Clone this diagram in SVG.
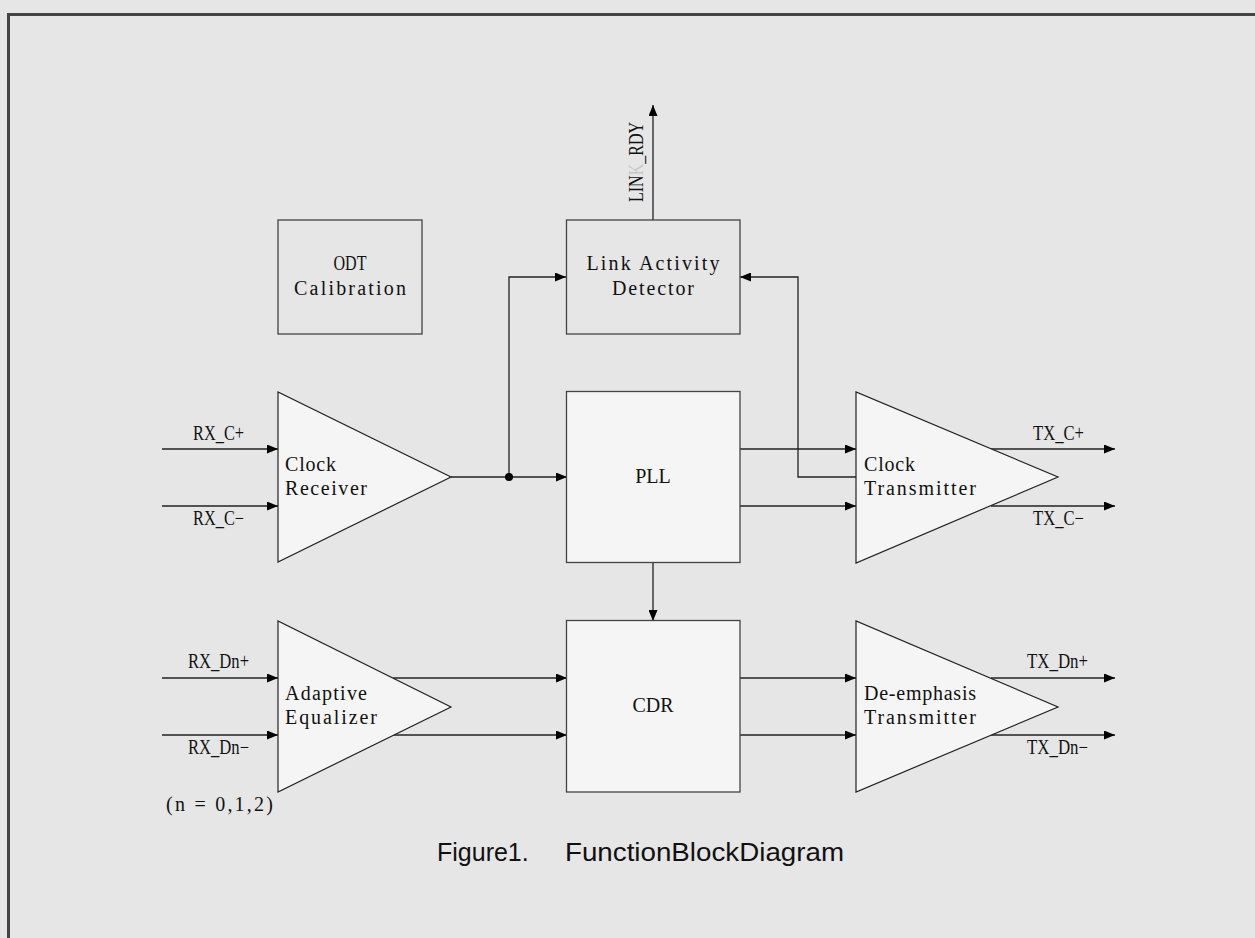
<svg xmlns="http://www.w3.org/2000/svg" width="1255" height="938" viewBox="0 0 1255 938">
<defs>
<marker id="arr" viewBox="0 0 11 9" refX="11" refY="4.5" markerWidth="11" markerHeight="9" markerUnits="userSpaceOnUse" orient="auto">
<path d="M0,0 L11,4.5 L0,9 Z" fill="#000"/>
</marker>
</defs>
<style>
.bg{fill:#e6e6e6}
.frame{fill:none;stroke:#444;stroke-width:3}
.box{fill:#e6e6e6;stroke:#444;stroke-width:1.3}
.blk{fill:#f5f5f5;stroke:#444;stroke-width:1.3}
.tri{fill:#f5f5f5;stroke:#222;stroke-width:1.2}
.a{fill:none;stroke:#222;stroke-width:1.3;marker-end:url(#arr)}
.m{font-family:"Liberation Serif",serif;font-size:20px;fill:#111}
.s{font-family:"Liberation Serif",serif;font-size:20px;fill:#111}
.cap{font-family:"Liberation Sans",Arial,sans-serif;font-size:25px;fill:#111}
.c{text-anchor:middle}
</style>
<rect class="bg" x="0" y="0" width="1255" height="938"/>
<rect class="frame" x="8.5" y="14.5" width="1255" height="940"/>

<g id="connectors">
<line class="a" x1="162" y1="449" x2="278" y2="449"/>
<line class="a" x1="162" y1="506" x2="278" y2="506"/>
<line class="a" x1="451" y1="477" x2="567" y2="477"/>
<polyline class="a" points="509,477 509,277 566,277"/>
<circle cx="509" cy="477" r="4" fill="#000"/>
<line class="a" x1="653" y1="220" x2="653" y2="105"/>
<line class="a" x1="740" y1="449" x2="856" y2="449"/>
<line class="a" x1="740" y1="506" x2="856" y2="506"/>
<polyline class="a" points="856,477 798,477 798,277 740,277"/>
<line class="a" x1="991" y1="449" x2="1115" y2="449"/>
<line class="a" x1="991" y1="506" x2="1115" y2="506"/>
<line class="a" x1="653" y1="563" x2="653" y2="621"/>
<line class="a" x1="162" y1="678" x2="278" y2="678"/>
<line class="a" x1="162" y1="735" x2="278" y2="735"/>
<line class="a" x1="393" y1="678" x2="567" y2="678"/>
<line class="a" x1="393" y1="735" x2="567" y2="735"/>
<line class="a" x1="740" y1="678" x2="856" y2="678"/>
<line class="a" x1="740" y1="735" x2="856" y2="735"/>
<line class="a" x1="991" y1="678" x2="1115" y2="678"/>
<line class="a" x1="991" y1="735" x2="1115" y2="735"/>
</g>

<g id="labels">
<text class="m" x="193" y="440" textLength="51" lengthAdjust="spacingAndGlyphs">RX_C+</text>
<text class="m" x="193" y="525" textLength="51" lengthAdjust="spacingAndGlyphs">RX_C−</text>
<text class="m" x="1033" y="440" textLength="51" lengthAdjust="spacingAndGlyphs">TX_C+</text>
<text class="m" x="1033" y="525" textLength="51" lengthAdjust="spacingAndGlyphs">TX_C−</text>
<text class="m" x="188" y="668" textLength="61" lengthAdjust="spacingAndGlyphs">RX_Dn+</text>
<text class="m" x="188" y="754" textLength="61" lengthAdjust="spacingAndGlyphs">RX_Dn−</text>
<text class="m" x="1027" y="668" textLength="61" lengthAdjust="spacingAndGlyphs">TX_Dn+</text>
<text class="m" x="1027" y="754" textLength="61" lengthAdjust="spacingAndGlyphs">TX_Dn−</text>
<text class="m" x="166" y="811" textLength="107">(n = 0,1,2)</text>
<text class="m" transform="translate(643,202) rotate(-90)" textLength="80" lengthAdjust="spacingAndGlyphs">LIN<tspan fill="#c8c8c8">K</tspan>_RDY</text>
</g>

<g id="odt">
<rect class="box" x="278" y="220" width="144" height="114"/>
<text class="m c" x="350" y="270" textLength="33" lengthAdjust="spacingAndGlyphs">ODT</text>
<text class="m c" x="350" y="295" textLength="112">Calibration</text>
</g>

<g id="lad">
<rect class="box" x="566.5" y="220" width="173.5" height="114"/>
<text class="m c" x="653" y="270" textLength="133">Link Activity</text>
<text class="m c" x="653" y="295" textLength="82">Detector</text>
</g>

<g id="clock-receiver">
<polygon class="tri" points="278,392 278,562 451,477"/>
<text class="m" x="285" y="471" textLength="51">Clock</text>
<text class="m" x="285" y="495" textLength="82">Receiver</text>
</g>

<g id="pll">
<rect class="blk" x="566.5" y="391.5" width="173.5" height="171"/>
<text class="s c" x="653" y="483">PLL</text>
</g>

<g id="clock-transmitter">
<polygon class="tri" points="856,392 856,563 1058,477"/>
<text class="m" x="864" y="471" textLength="51">Clock</text>
<text class="m" x="864" y="495" textLength="112">Transmitter</text>
</g>

<g id="adaptive-equalizer">
<polygon class="tri" points="278,621 278,792 451,707"/>
<text class="m" x="285" y="700" textLength="82">Adaptive</text>
<text class="m" x="285" y="724" textLength="92">Equalizer</text>
</g>

<g id="cdr">
<rect class="blk" x="566.5" y="620.5" width="173.5" height="171.5"/>
<text class="s c" x="653" y="712">CDR</text>
</g>

<g id="deemphasis-transmitter">
<polygon class="tri" points="856,621 856,792 1058,707"/>
<text class="m" x="864" y="700" textLength="112">De-emphasis</text>
<text class="m" x="864" y="724" textLength="112">Transmitter</text>
</g>

<g id="caption">
<text class="cap"><tspan x="437" y="861">Figure1.</tspan><tspan x="565" y="861" textLength="279" lengthAdjust="spacingAndGlyphs">FunctionBlockDiagram</tspan></text>
</g>
</svg>
